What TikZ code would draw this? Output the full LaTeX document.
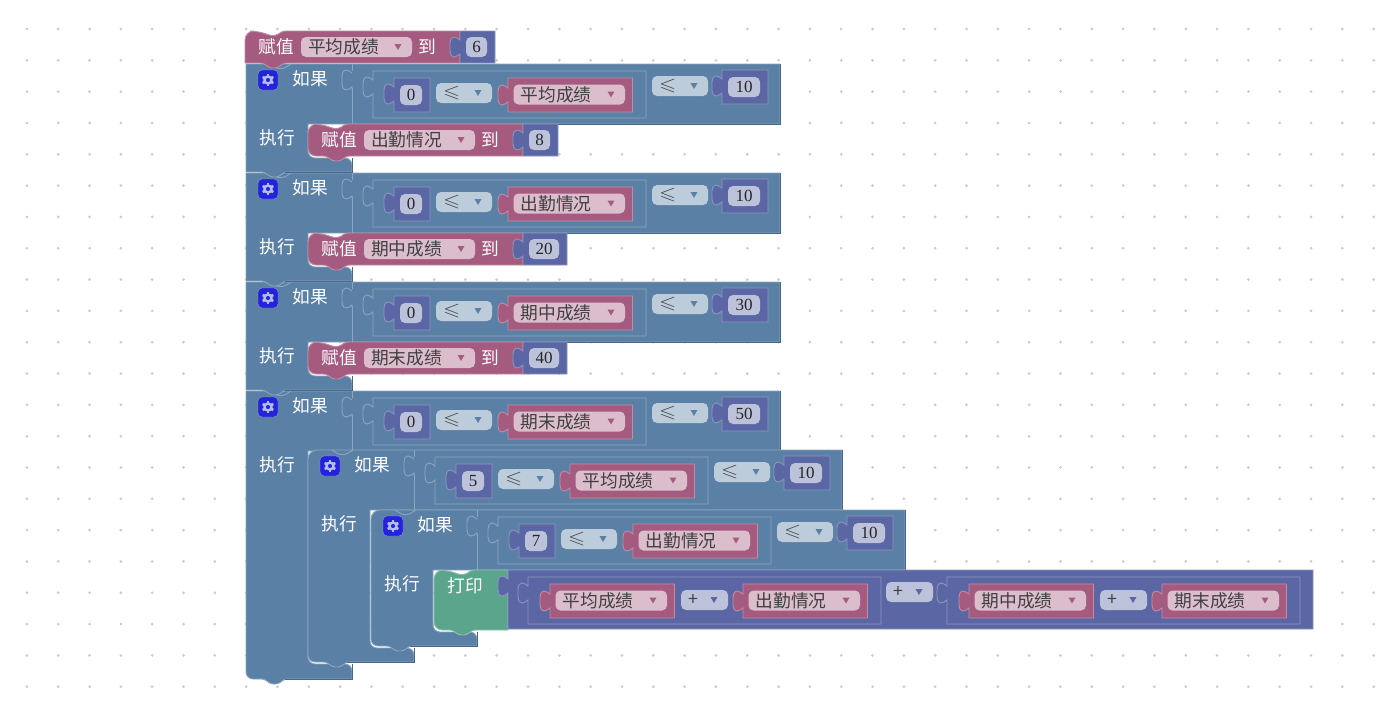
\documentclass[tikz,border=0pt]{standalone}
\usepackage{amssymb}
\usepackage{graphicx}
\usepackage{fontspec}
\newfontfamily\cjk{Noto Sans CJK SC}
\newfontfamily\numfont{Liberation Serif}

\definecolor{logicfill}{HTML}{5B80A5}
\definecolor{logiclight}{HTML}{8CA6C0}
\definecolor{logicdark}{HTML}{49668A}
\definecolor{varfill}{HTML}{A55B80}
\definecolor{varlight}{HTML}{C08CA6}
\definecolor{varfield}{HTML}{DBBDCC}
\definecolor{mathfill}{HTML}{5B67A5}
\definecolor{mathlight}{HTML}{8C95C0}
\definecolor{mathfield}{HTML}{BDC2DB}
\definecolor{cmpfield}{HTML}{BDCCDB}
\definecolor{printfill}{HTML}{5BA58C}
\definecolor{printlight}{HTML}{8CC0AF}
\definecolor{gearblue}{HTML}{2323DD}
\definecolor{gearlight}{HTML}{B4BCEC}

\tikzset{
    ifbody/.style={fill=logicfill, draw=logiclight, line width=.9pt},
    varbody/.style={fill=varfill, draw=varlight, line width=.9pt},
    mathbody/.style={fill=mathfill, draw=mathlight, line width=.9pt},
    printbody/.style={fill=printfill, draw=printlight, line width=.9pt},
    whitelabel/.style={inner sep=0pt, text=white, font=\cjk\fontsize{17.7}{18}\selectfont},
    fieldlabel/.style={inner sep=0pt, anchor=west, text=black!75, font=\cjk\fontsize{17.7}{18}\selectfont},
    numfield/.style={fill=mathfield, rounded corners=5pt, inner sep=0pt, minimum height=20pt, text=black!85, font=\numfont\fontsize{17}{17}\selectfont},
    griddot/.style={fill=black!20},
}

% puzzle tab on the left edge of a block, going upwards
\newcommand{\tabup}[2]{-- ({#1},{#2+17}) .. controls ({#1-4},{#2+20}) and ({#1-9},{#2+23}) .. ({#1-10},{#2+14}) -- ({#1-10},{#2+6}) .. controls ({#1-9},{#2-3}) and ({#1-4},{#2}) .. ({#1},{#2+3})}
% notch in a top edge and bump under a bottom edge
\newcommand{\topnotch}[2]{[rounded corners=2.5pt] -- ({#1+25},{#2+4.5}) -- ({#1+31},{#2+4.5}) -- ({#1+38},{#2}) [sharp corners]}
\newcommand{\bottombump}[2]{[rounded corners=2.5pt] -- ({#1+39},{#2}) -- ({#1+32},{#2+5}) -- ({#1+25},{#2+5}) -- ({#1+18},{#2}) [sharp corners]}

% name, x left, x right, y top, fill, arrow colour, text
\newcommand{\dropfield}[7]{
    \fill[#5, rounded corners=5pt] ({#2},{#4}) rectangle ({#3},{#4+20});
    \fill[#6] ({#3-17.5},{#4+7}) -- ({#3-10.5},{#4+7}) -- ({#3-14},{#4+13}) -- cycle;
    \node[fieldlabel] (#1) at ({#2+7},{#4+10}) {#7};
}

% name, x, y, width, height, number
\newcommand{\numblock}[6]{
    \draw[mathbody] ({#2},{#3}) -- ({#2+#4},{#3}) -- ({#2+#4},{#3+#5}) -- ({#2},{#3+#5}) \tabup{#2}{#3+6} -- cycle;
    \node[numfield, minimum width={(#4-14)*1pt}] (#1) at ({#2+#4/2-1},{#3+#5/2}) {#6};
}

% name, x, y, variable
\newcommand{\varblock}[4]{
    \draw[varbody] ({#2},{#3}) -- ({#2+124.5},{#3}) -- ({#2+124.5},{#3+34}) -- ({#2},{#3+34}) \tabup{#2}{#3+7} -- cycle;
    \dropfield{#1}{#2+5.5}{#2+117}{#3+6.5}{varfield}{varfill}{#4}
}

% name, x, y, bottom radius, variable, number width, number
\newcommand{\setblock}[7]{
    \draw[varbody] ({#2},{#3+15}) [rounded corners=9pt] -- ({#2},{#3}) -- ({#2+14},{#3}) \topnotch{#2}{#3} -- ({#2+215},{#3}) -- ({#2+215},{#3+32}) \bottombump{#2}{#3+32} [rounded corners=#4] -- ({#2},{#3+32}) -- ({#2},{#3+15}) -- cycle;
    \node[whitelabel] (#1head) at ({#2+31},{#3+15.5}) {赋值};
    \dropfield{#1var}{#2+56}{#2+167}{#3+6}{varfield}{varfill}{#5}
    \node[whitelabel] (#1to) at ({#2+182},{#3+15.5}) {到};
    \numblock{#1num}{#2+215}{#3}{#6}{32}{#7}
}

% name, x, y, statement bottom, block bottom, top radius, bottom radius
\newcommand{\ifblock}[7]{
    \draw[ifbody] ({#2},{#3+20}) [rounded corners=#6] -- ({#2},{#3}) -- ({#2+22},{#3}) [sharp corners] -- ({#2+534},{#3}) -- ({#2+534},{#3+60}) -- ({#2+62},{#3+60}) [rounded corners=7pt] -- ({#2+62},{#4}) -- ({#2+106},{#4}) [sharp corners] -- ({#2+106},{#5}) \bottombump{#2}{#5} [rounded corners=#7] -- ({#2},{#5}) -- ({#2},{#3+20}) -- cycle;
    \draw[logicdark, line width=.9pt] ({#2+534},{#3}) -- ({#2+534},{#3+60}) -- ({#2+106},{#3+60});
    \draw[logicdark, line width=.9pt] ({#2+106},{#4}) -- ({#2+106},{#5}) -- ({#2+39},{#5});
    \draw[logiclight, line width=.9pt, rounded corners=2.5pt] ({#2+24},{#3}) -- ({#2+31},{#3+4.5}) -- ({#2+38},{#3+4.5}) -- ({#2+45},{#3}); %top notch
    \draw[logiclight, line width=.9pt] ({#2+106},{#3}) -- ({#2+106},{#3+60});
    \draw[logicfill, line width=1.4pt] ({#2+106},{#3+7}) -- ({#2+106},{#3+24}); %empty slot
    \draw[logiclight, line width=.9pt] ({#2+106},{#3+26}) \tabup{#2+106}{#3+6};
    \fill[gearblue, draw=logiclight, rounded corners=4pt] ({#2+12},{#3+6}) rectangle ({#2+32},{#3+26}); %gear
    \foreach \a in {30,90,...,330} \draw[gearlight, line width=2.6pt] ({#2+22},{#3+16}) ++(\a:3.5) -- ++(\a:2.6);
    \draw[gearlight, line width=2.4pt] ({#2+22},{#3+16}) circle (3.5);
    \node[whitelabel] (#1if) at ({#2+64},{#3+14.5}) {如果};
    \node[whitelabel] (#1do) at ({#2+31},{#3+73.5}) {执行};
}

% name, x, y, first number, variable, last number
\newcommand{\ifcompare}[6]{
    \draw[ifbody] ({#2+127},{#3+7}) -- ({#2+400},{#3+7}) -- ({#2+400},{#3+54}) -- ({#2+127},{#3+54}) \tabup{#2+127}{#3+13} -- cycle;
    \numblock{#1lo}{#2+148}{#3+14}{36}{34}{#4}
    \dropfield{#1opa}{#2+190}{#2+246}{#3+19}{cmpfield}{logicfill}{\scalebox{1.25}[1]{$\leqslant$}}
    \varblock{#1var}{#2+262}{#3+14}{#5}
    \dropfield{#1opb}{#2+406}{#2+462}{#3+12}{cmpfield}{logicfill}{\scalebox{1.25}[1]{$\leqslant$}}
    \numblock{#1hi}{#2+476}{#3+6}{46}{34}{#6}
}

% name, x, variable, variable
\newcommand{\addblock}[4]{
    \draw[mathbody] ({#2},577) -- ({#2+353},577) -- ({#2+353},624) -- ({#2},624) \tabup{#2}{583} -- cycle;
    \varblock{#1a}{#2+22}{584}{#3}
    \dropfield{#1op}{#2+153}{#2+200}{590}{mathfield}{mathfill}{+}
    \varblock{#1b}{#2+215}{584}{#4}
}

\begin{document}
\begin{tikzpicture}[x=1pt, y=-1pt]
    \useasboundingbox (0,0) rectangle (1378,707);
    \fill[white] (0,0) rectangle (1378,707);
    \foreach \i in {0,...,43} \foreach \j in {0,...,21}
        \fill[griddot] ({26.9+31.32*\i},{29+31.32*\j}) circle (1.5);

    \ifblock{ifd}{246}{391}{664}{679}{.01pt}{7pt} %ifd
    \ifcompare{cmpd}{246}{391}{0}{期末成绩}{50}
    \ifblock{ife}{308}{450}{648}{662}{9pt}{7pt} %ife
    \ifcompare{cmpe}{308}{450}{5}{平均成绩}{10}
    \ifblock{iff}{371}{510}{632}{646}{9pt}{7pt} %iff
    \ifcompare{cmpf}{371}{510}{7}{出勤情况}{10}

    \draw[printbody] (434,585) [rounded corners=9pt] -- (434,570) -- (448,570) \topnotch{434}{570} -- (508,570) -- (508,630) \bottombump{434}{630} [rounded corners=8pt] -- (434,630) -- (434,585) -- cycle; %print
    \node[whitelabel] (printhead) at (465,585.5) {打印};
    \draw[mathbody] (508,570) -- (1313,570) -- (1313,629) -- (508,629) \tabup{508}{576} -- cycle; %sum
    \addblock{adda}{528}{平均成绩}{出勤情况}
    \dropfield{sumop}{886}{933}{582}{mathfield}{mathfill}{+}
    \addblock{addb}{947}{期中成绩}{期末成绩}

    \ifblock{ifc}{246}{282}{376}{390}{.01pt}{.01pt} %ifc
    \ifcompare{cmpc}{246}{282}{0}{期中成绩}{30}
    \setblock{setd}{308}{342}{8pt}{期末成绩}{44}{40}

    \ifblock{ifb}{246}{173}{267}{281}{.01pt}{.01pt} %ifb
    \ifcompare{cmpb}{246}{173}{0}{出勤情况}{10}
    \setblock{setc}{308}{233}{8pt}{期中成绩}{44}{20}

    \ifblock{ifa}{246}{64}{158}{172}{.01pt}{.01pt} %ifa
    \ifcompare{cmpa}{246}{64}{0}{平均成绩}{10}
    \setblock{setb}{308}{124}{8pt}{出勤情况}{35}{8}

    \setblock{seta}{245}{31}{.01pt}{平均成绩}{35}{6} %seta
\end{tikzpicture}
\end{document}
